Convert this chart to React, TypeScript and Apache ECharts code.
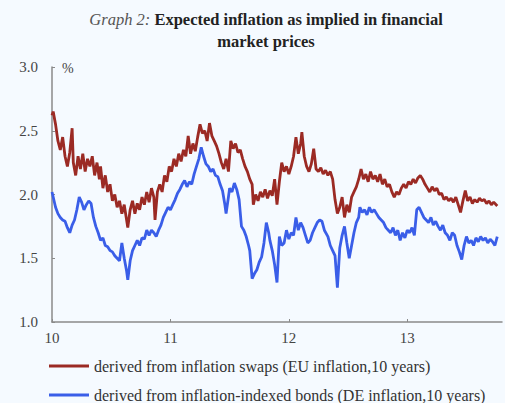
import React, { useEffect, useRef } from "react";
import * as echarts from "echarts";

const yTicks = [1.0, 1.5, 2.0, 2.5, 3.0];
const xTickYears = [10, 11, 12, 13];

const swapLabel = "derived from inflation swaps (EU inflation,10 years)";
const bondLabel = "derived from inflation-indexed bonds (DE inflation,10 years)";

// [year (decimal, 10 = 2010), percent]
const swaps: [number, number][] = [
  [10.0, 2.62], [10.01, 2.65], [10.03, 2.55], [10.05, 2.42], [10.07, 2.35], [10.09, 2.45], [10.11, 2.3], [10.13, 2.22],
  [10.15, 2.33], [10.17, 2.52], [10.18, 2.25], [10.2, 2.15], [10.22, 2.3], [10.24, 2.2], [10.26, 2.32], [10.28, 2.18],
  [10.3, 2.28], [10.32, 2.22], [10.34, 2.3], [10.36, 2.15], [10.38, 2.25], [10.4, 2.12], [10.41, 2.22], [10.43, 2.05],
  [10.45, 2.15], [10.47, 2.02], [10.49, 2.08], [10.51, 1.95], [10.53, 2.0], [10.55, 1.9], [10.57, 1.95], [10.59, 1.85],
  [10.61, 1.92], [10.63, 1.8], [10.64, 1.74], [10.66, 1.88], [10.68, 1.95], [10.7, 1.85], [10.72, 1.93], [10.74, 1.88],
  [10.76, 1.98], [10.78, 1.92], [10.8, 2.02], [10.82, 1.94], [10.84, 2.05], [10.86, 1.98], [10.87, 1.8], [10.89, 2.02],
  [10.91, 2.08], [10.93, 2.02], [10.95, 2.15], [10.97, 2.1], [10.99, 2.22], [11.01, 2.18], [11.03, 2.28], [11.05, 2.22],
  [11.07, 2.32], [11.09, 2.26], [11.11, 2.35], [11.13, 2.3], [11.15, 2.46], [11.17, 2.32], [11.19, 2.4], [11.21, 2.34],
  [11.23, 2.45], [11.25, 2.55], [11.27, 2.48], [11.29, 2.5], [11.31, 2.42], [11.33, 2.56], [11.35, 2.46], [11.37, 2.42],
  [11.39, 2.38], [11.41, 2.32], [11.43, 2.25], [11.45, 2.2], [11.47, 2.28], [11.49, 2.18], [11.51, 2.42], [11.53, 2.36],
  [11.55, 2.4], [11.57, 2.33], [11.59, 2.35], [11.61, 2.28], [11.63, 2.22], [11.65, 2.18], [11.67, 2.12], [11.69, 2.08],
  [11.7, 1.92], [11.72, 2.0], [11.74, 1.95], [11.76, 2.02], [11.78, 1.98], [11.8, 2.04], [11.82, 1.97], [11.84, 2.03],
  [11.86, 1.99], [11.88, 2.12], [11.9, 1.92], [11.92, 2.1], [11.94, 2.25], [11.96, 2.18], [11.98, 2.22], [12.0, 2.16],
  [12.02, 2.22], [12.04, 2.3], [12.06, 2.45], [12.08, 2.32], [12.1, 2.4], [12.11, 2.49], [12.13, 2.3], [12.15, 2.22],
  [12.17, 2.18], [12.19, 2.24], [12.21, 2.36], [12.23, 2.2], [12.25, 2.18], [12.27, 2.21], [12.29, 2.16], [12.31, 2.19],
  [12.33, 2.15], [12.35, 2.18], [12.37, 2.12], [12.39, 1.96], [12.41, 1.85], [12.43, 1.9], [12.45, 1.98], [12.47, 1.82],
  [12.49, 1.92], [12.51, 1.86], [12.53, 1.98], [12.55, 2.02], [12.57, 2.06], [12.59, 2.12], [12.61, 2.2], [12.63, 2.12],
  [12.65, 2.16], [12.67, 2.1], [12.69, 2.18], [12.71, 2.12], [12.73, 2.15], [12.75, 2.1], [12.77, 2.16], [12.79, 2.08],
  [12.81, 2.12], [12.83, 2.06], [12.85, 2.08], [12.87, 2.02], [12.89, 1.98], [12.91, 2.02], [12.93, 2.0], [12.95, 2.05],
  [12.97, 2.08], [12.99, 2.05], [13.01, 2.1], [13.03, 2.08], [13.05, 2.12], [13.07, 2.09], [13.09, 2.13], [13.11, 2.15],
  [13.13, 2.12], [13.15, 2.08], [13.17, 2.05], [13.19, 2.02], [13.21, 2.06], [13.23, 2.03], [13.25, 2.05], [13.27, 2.0],
  [13.29, 2.01], [13.31, 1.96], [13.33, 1.98], [13.35, 1.95], [13.37, 1.97], [13.39, 1.94], [13.41, 1.98], [13.43, 1.92],
  [13.45, 1.86], [13.47, 1.95], [13.49, 2.03], [13.51, 1.95], [13.53, 1.98], [13.55, 1.93], [13.57, 1.96], [13.59, 1.94],
  [13.61, 1.97], [13.63, 1.95], [13.65, 1.96], [13.67, 1.93], [13.69, 1.95], [13.71, 1.92], [13.73, 1.94], [13.76, 1.91],
];

const bonds: [number, number][] = [
  [10.0, 2.02], [10.01, 1.98], [10.03, 1.9], [10.05, 1.85], [10.07, 1.82], [10.09, 1.8], [10.11, 1.79], [10.13, 1.74],
  [10.15, 1.7], [10.17, 1.76], [10.19, 1.8], [10.21, 1.88], [10.23, 1.98], [10.25, 1.94], [10.27, 1.88], [10.29, 1.92],
  [10.31, 1.95], [10.33, 1.93], [10.35, 1.82], [10.37, 1.75], [10.39, 1.7], [10.41, 1.64], [10.43, 1.66], [10.45, 1.6],
  [10.47, 1.59], [10.49, 1.56], [10.51, 1.55], [10.53, 1.52], [10.55, 1.5], [10.57, 1.48], [10.59, 1.62], [10.61, 1.5],
  [10.63, 1.4], [10.64, 1.33], [10.66, 1.48], [10.68, 1.56], [10.7, 1.6], [10.72, 1.64], [10.74, 1.6], [10.76, 1.66],
  [10.78, 1.65], [10.8, 1.72], [10.82, 1.68], [10.84, 1.72], [10.86, 1.7], [10.88, 1.67], [10.9, 1.72], [10.92, 1.76],
  [10.94, 1.82], [10.96, 1.86], [10.98, 1.9], [11.0, 1.88], [11.02, 1.92], [11.04, 1.96], [11.06, 2.01], [11.08, 2.04],
  [11.1, 2.08], [11.12, 2.11], [11.14, 2.06], [11.16, 2.1], [11.18, 2.08], [11.2, 2.16], [11.22, 2.22], [11.24, 2.28],
  [11.26, 2.37], [11.28, 2.3], [11.3, 2.24], [11.32, 2.22], [11.34, 2.18], [11.36, 2.2], [11.38, 2.15], [11.4, 2.14],
  [11.42, 2.08], [11.44, 2.03], [11.46, 1.92], [11.47, 1.85], [11.49, 1.98], [11.5, 2.05], [11.52, 2.02], [11.54, 2.09],
  [11.56, 2.04], [11.58, 1.96], [11.6, 1.75], [11.62, 1.72], [11.64, 1.67], [11.66, 1.6], [11.67, 1.56], [11.68, 1.45],
  [11.69, 1.34], [11.71, 1.38], [11.73, 1.41], [11.75, 1.47], [11.77, 1.51], [11.79, 1.62], [11.81, 1.78], [11.83, 1.7],
  [11.84, 1.64], [11.86, 1.56], [11.88, 1.45], [11.9, 1.31], [11.92, 1.67], [11.94, 1.6], [11.96, 1.62], [11.98, 1.72],
  [12.0, 1.65], [12.02, 1.7], [12.04, 1.68], [12.06, 1.82], [12.08, 1.72], [12.1, 1.78], [12.12, 1.74], [12.14, 1.68],
  [12.16, 1.62], [12.18, 1.64], [12.2, 1.7], [12.22, 1.74], [12.24, 1.78], [12.26, 1.8], [12.28, 1.79], [12.3, 1.72],
  [12.33, 1.67], [12.35, 1.6], [12.37, 1.56], [12.39, 1.52], [12.41, 1.27], [12.43, 1.58], [12.45, 1.68], [12.47, 1.75],
  [12.49, 1.62], [12.51, 1.5], [12.53, 1.6], [12.55, 1.7], [12.57, 1.78], [12.59, 1.82], [12.6, 1.9], [12.62, 1.86],
  [12.64, 1.88], [12.66, 1.84], [12.68, 1.9], [12.7, 1.86], [12.72, 1.88], [12.74, 1.85], [12.76, 1.82], [12.78, 1.8],
  [12.8, 1.78], [12.82, 1.74], [12.84, 1.72], [12.86, 1.7], [12.88, 1.74], [12.9, 1.68], [12.92, 1.72], [12.94, 1.64],
  [12.96, 1.7], [12.98, 1.66], [13.0, 1.72], [13.02, 1.7], [13.04, 1.74], [13.06, 1.68], [13.08, 1.88], [13.1, 1.9],
  [13.12, 1.86], [13.14, 1.82], [13.16, 1.8], [13.18, 1.78], [13.2, 1.82], [13.22, 1.76], [13.24, 1.79], [13.26, 1.75],
  [13.28, 1.72], [13.3, 1.76], [13.32, 1.7], [13.34, 1.68], [13.36, 1.64], [13.38, 1.7], [13.4, 1.68], [13.42, 1.6],
  [13.44, 1.55], [13.46, 1.49], [13.48, 1.6], [13.5, 1.67], [13.52, 1.62], [13.54, 1.64], [13.56, 1.6], [13.58, 1.66],
  [13.6, 1.63], [13.62, 1.67], [13.64, 1.64], [13.66, 1.66], [13.68, 1.62], [13.7, 1.65], [13.72, 1.63], [13.74, 1.6],
  [13.76, 1.67],
];

const SERIF = "'Liberation Serif', 'DejaVu Serif', serif";
const RED = "#9b2a24";
const BLUE = "#3a5ee8";

export default function App() {
  const ref = useRef<HTMLDivElement>(null);
  useEffect(() => {
    document.body.style.margin = "0";
    document.body.style.background = "#f5faff";
    if (!ref.current) return;
    const chart = echarts.init(ref.current, undefined, { renderer: "svg" });
    const legendBase = {
      orient: "horizontal",
      left: 49,
      padding: 0,
      itemWidth: 40,
      itemHeight: 3,
      icon: "rect",
      textStyle: { fontFamily: SERIF, fontSize: 16, color: "#333" },
    };
    chart.setOption({
      animation: false,
      backgroundColor: "#f5faff",
      graphic: [
        {
          type: "text",
          x: 266,
          y: 19,
          style: {
            text: "{i|Graph 2: }{b|Expected inflation as implied in financial}",
            textAlign: "center",
            textVerticalAlign: "middle",
            rich: {
              i: { fontFamily: SERIF, fontStyle: "italic", fontSize: 16.5, fill: "#555" },
              b: { fontFamily: SERIF, fontWeight: "bold", fontSize: 16.5, fill: "#222" },
            },
          },
        },
        {
          type: "text",
          x: 266,
          y: 41,
          style: {
            text: "market prices",
            textAlign: "center",
            textVerticalAlign: "middle",
            fontFamily: SERIF,
            fontWeight: "bold",
            fontSize: 16.5,
            fill: "#222",
          },
        },
        {
          type: "text",
          x: 62,
          y: 68,
          style: { text: "%", fontFamily: SERIF, fontSize: 14, fill: "#444", textVerticalAlign: "middle" },
        },
      ],
      legend: [
        { ...legendBase, top: 358, data: [swapLabel] },
        { ...legendBase, top: 387, data: [bondLabel] },
      ],
      grid: { left: 52, right: 3, top: 67, bottom: 81, containLabel: false },
      xAxis: {
        type: "value",
        min: 10,
        max: 13.8,
        interval: 1,
        axisLine: { lineStyle: { color: "#8a8a8a", width: 1.5 } },
        axisTick: { inside: true, length: 3, lineStyle: { color: "#8a8a8a" } },
        splitLine: { show: false },
        axisLabel: {
          fontFamily: SERIF,
          fontSize: 15,
          color: "#444",
          margin: 8,
          showMaxLabel: false,
          formatter: (v: number) =>
            xTickYears.includes(Math.round(v)) && Math.abs(v - Math.round(v)) < 1e-6 ? String(Math.round(v)) : "",
        },
      },
      yAxis: {
        type: "value",
        min: yTicks[0],
        max: yTicks[yTicks.length - 1],
        interval: 0.5,
        axisLine: { show: true, lineStyle: { color: "#8a8a8a", width: 1.5 } },
        axisTick: { show: true, inside: true, length: 3, lineStyle: { color: "#8a8a8a" } },
        splitLine: { show: false },
        axisLabel: {
          fontFamily: SERIF,
          fontSize: 15,
          color: "#444",
          margin: 14,
          formatter: (v: number) => v.toFixed(1),
        },
      },
      series: [
        {
          name: swapLabel,
          type: "line",
          data: swaps,
          showSymbol: false,
          lineStyle: { color: RED, width: 2.8 },
          itemStyle: { color: RED },
          z: 3,
        },
        {
          name: bondLabel,
          type: "line",
          data: bonds,
          showSymbol: false,
          lineStyle: { color: BLUE, width: 2.8 },
          itemStyle: { color: BLUE },
          z: 2,
        },
      ],
    });
    return () => chart.dispose();
  }, []);
  return <div ref={ref} style={{ width: 505, height: 403 }} />;
}
